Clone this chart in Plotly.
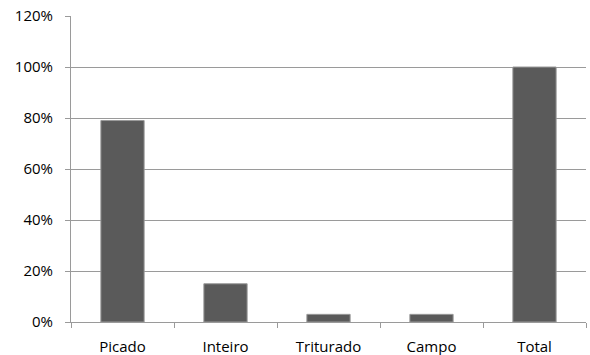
import plotly.graph_objects as go

categories = ["Picado", "Inteiro", "Triturado", "Campo", "Total"]
values = [0.79, 0.15, 0.03, 0.03, 1.00]
y_ticks = [0, 0.2, 0.4, 0.6, 0.8, 1.0, 1.2]
y_tick_labels = ["0%", "20%", "40%", "60%", "80%", "100%", "120%"]

fig = go.Figure(go.Bar(
    x=categories, y=values,
    marker=dict(color="#5a5a5a", line=dict(color="#9a9a9a", width=1)),
    width=0.42,
))

fig.update_layout(
    width=590, height=355,
    margin=dict(l=71, r=4, t=16, b=33),
    paper_bgcolor="white", plot_bgcolor="white",
    font=dict(family="Open Sans, Lato, sans-serif", size=15, color="#000"),
    showlegend=False,
)
fig.update_xaxes(
    showline=True, linecolor="#9a9a9a", linewidth=1,
    ticks="outside", tickson="boundaries", ticklen=5, tickcolor="#9a9a9a",
    showgrid=False, tickfont=dict(size=15), ticklabelstandoff=11,
    automargin=False,
)
fig.update_yaxes(
    range=[0, 1.2], tickvals=y_ticks, ticktext=y_tick_labels,
    showline=True, linecolor="#9a9a9a", linewidth=1,
    ticks="outside", ticklen=5, tickcolor="#9a9a9a",
    showgrid=True, gridcolor="#9a9a9a", gridwidth=1,
    zeroline=False, tickfont=dict(size=15), ticklabelstandoff=9,
    automargin=False,
)

fig.write_html("out.html")
